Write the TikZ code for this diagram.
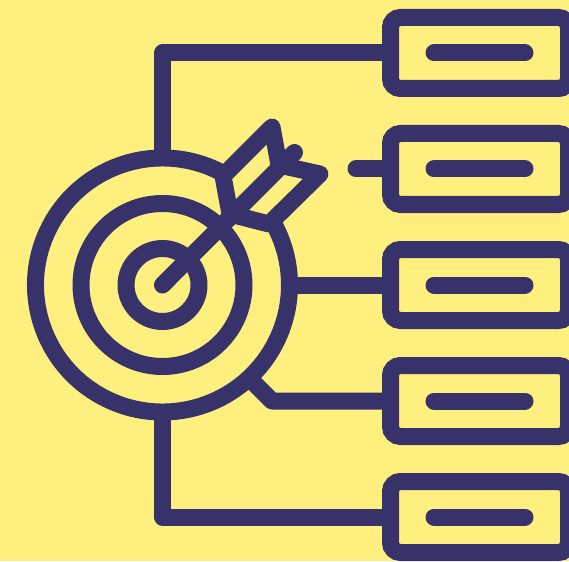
\documentclass[tikz,border=0pt]{standalone}
\usetikzlibrary{calc}
\definecolor{ink}{HTML}{38326B}
\definecolor{paper}{HTML}{FFEF7E}
\tikzset{
  x=1pt,y=1pt,
  stroke/.style={draw=ink,line width=17pt,line cap=round,line join=round},
  flat/.style={draw=ink,line width=17pt,line cap=butt,line join=round},
  cardbox/.style={draw=ink,line width=17pt,rounded corners=10pt,minimum width=178pt,minimum height=71pt,inner sep=0pt,outer sep=0pt,fill=paper}
}
\begin{document}
\begin{tikzpicture}
\useasboundingbox (0,0) rectangle (569,-561);
\fill[paper] (0,0) rectangle (569,-561);
\clip (0,0) rectangle (569,-561);
\coordinate (c) at (162.5,-285);
% connectors
\foreach \i/\y in {1/53,2/169,3/285,4/401,5/517}{
  \coordinate (a\i) at (480,-\y);
}
\draw[flat] (162.5,-150) |- (a1);
\draw[stroke] (356,-169) -- (a2);
\draw[flat] (290,-285) -- (a3);
\draw[flat] (249,-378) -- (272,-401) -- (a4);
\draw[flat] (162.5,-420) |- (a5);
% rings
\draw[stroke] (c) circle[radius=36.5];
\draw[stroke] (c) circle[radius=81.5];
\draw[flat] ($(c)+(60:127)$) arc[start angle=60,end angle=390,radius=127];
% boxes
\foreach \i/\y in {1/53,2/169,3/285,4/401,5/517}{
  \node[cardbox] (b\i) at (479.5,-\y) {};
  \draw[stroke] ($(b\i)+(-45.5,0)$) -- ($(b\i)+(45.5,0)$);
}
% arrow
\coordinate (tipa) at (272,-127);
\coordinate (fb) at (223,-176);
\coordinate (fc) at (230,-214);
\coordinate (fd) at (269,-224);
\coordinate (tipb) at (320,-174);
\coordinate (fe) at (279,-165);
\draw[stroke] (tipa) -- (fb) -- (fc) -- (fd) -- (tipb) -- (fe) -- cycle;
\draw[stroke] (c) -- (294.5,-152.5);
\end{tikzpicture}
\end{document}
